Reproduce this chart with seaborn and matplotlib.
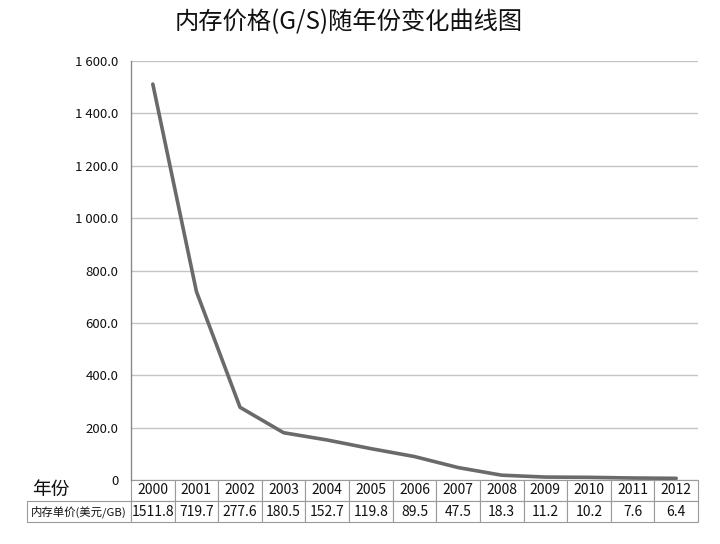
import matplotlib
matplotlib.use("Agg")
import matplotlib.pyplot as plt
import seaborn as sns
from matplotlib.ticker import FuncFormatter

# data
years = [2000, 2001, 2002, 2003, 2004, 2005, 2006, 2007, 2008, 2009, 2010, 2011, 2012]
prices = [1511.8, 719.7, 277.6, 180.5, 152.7, 119.8, 89.5, 47.5, 18.3, 11.2, 10.2, 7.6, 6.4]
title = "内存价格(G/S)随年份变化曲线图"
row_label = "内存单价(美元/GB)"
year_label = "年份"

sns.set_theme(style="white")
plt.rcParams['font.family'] = ['Noto Sans CJK SC', 'DejaVu Sans']

fig = plt.figure(figsize=(7.2, 5.44), dpi=100)
# axes box in pixels: x 131..698, y 61..480
W, H = 720, 544
ax = fig.add_axes([131 / W, (H - 480) / H, (698 - 131) / W, (480 - 61) / H])

sns.lineplot(x=years, y=prices, ax=ax, color="#6a6a6a", linewidth=2.6)

ax.set_xlim(years[0] - 0.5, years[-1] + 0.5)
ax.set_ylim(0, 1600)
ax.set_yticks(range(0, 1601, 200))
ax.yaxis.set_major_formatter(FuncFormatter(
    lambda v, p: "0" if v == 0 else f"{v:,.1f}".replace(",", " ")))
ax.set_xticks([])
ax.grid(axis="y", color="#c4c4c4", linewidth=1)
ax.tick_params(axis="y", length=0, pad=9, labelsize=9.5, labelcolor="#111111")
for s in ["top", "right", "bottom"]:
    ax.spines[s].set_visible(False)
ax.spines["left"].set_color("#8a8a8a")
ax.spines["left"].set_linewidth(1)

# data table under the axis
ax_w, ax_h = 698 - 131, 480 - 61
lab_w = 104
cells = [[""] + [str(y) for y in years],
         [row_label] + [f"{p:.1f}" for p in prices]]
tbl = ax.table(cellText=cells, cellLoc="center",
               colWidths=[lab_w / ax_w] + [1 / len(years)] * len(years),
               bbox=[-lab_w / ax_w, -42 / ax_h, 1 + lab_w / ax_w, 42 / ax_h])
tbl.auto_set_font_size(False)
tbl.set_fontsize(10)
for (r, c), cell in tbl.get_celld().items():
    cell.set_edgecolor("#9a9a9a")
    cell.set_linewidth(0.8)
    cell.get_text().set_color("#111111")
tbl[0, 0].visible_edges = ""
tbl[1, 0].get_text().set_fontsize(8.2)

fig.text(32 / W, 1 - 489 / H, year_label, fontsize=13.5, ha="left", va="center",
         color="#111111")
fig.text(349 / W, 1 - 22 / H, title, fontsize=17.5, ha="center", va="center",
         color="#111111")

fig.savefig("out.png", dpi=100)
